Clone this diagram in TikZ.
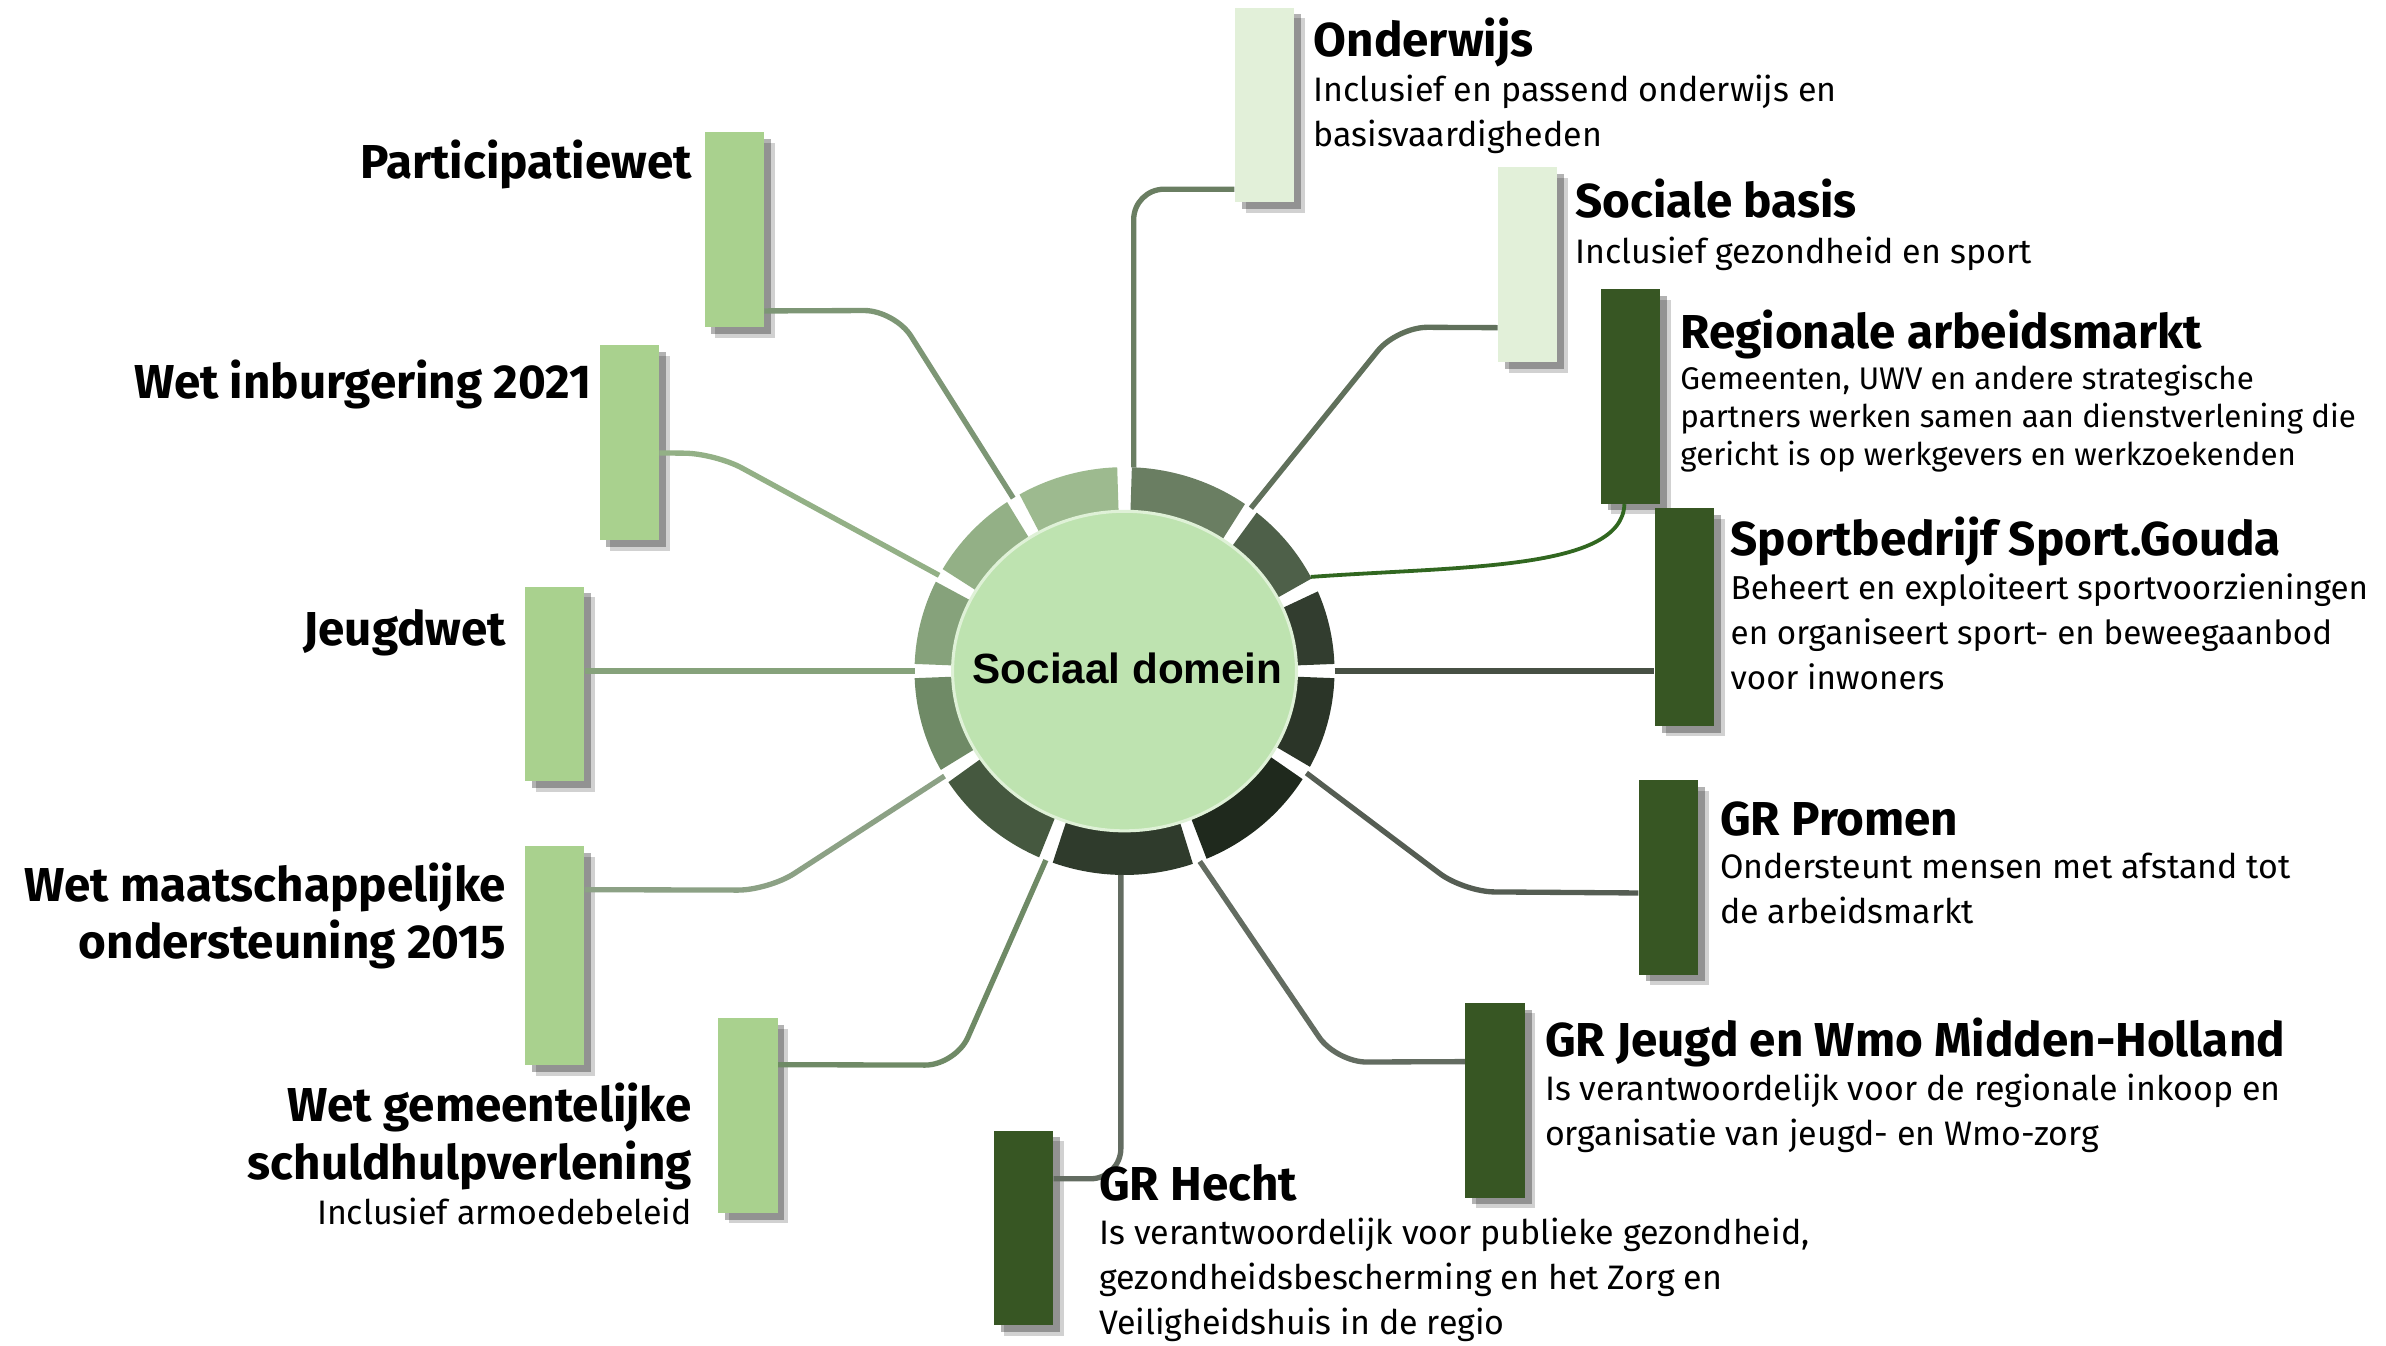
\documentclass[tikz,border=0pt]{standalone}
\usepackage{fontspec}
\setmainfont{Fira Sans}
\newfontfamily\hubfont{Liberation Sans}
\usetikzlibrary{calc,shadows}
\definecolor{BarClr}{HTML}{A9D18E}
\definecolor{PaleBarClr}{HTML}{E2F0D9}
\definecolor{DarkBarClr}{HTML}{375623}
\definecolor{HubClr}{HTML}{BEE3B0}
\definecolor{SegA}{HTML}{9DBA8F}
\definecolor{SegB}{HTML}{93B086}
\definecolor{SegC}{HTML}{86A27B}
\definecolor{SegD}{HTML}{6F8A66}
\definecolor{SegE}{HTML}{45583F}
\definecolor{SegF}{HTML}{2F3B2C}
\definecolor{SegG}{HTML}{1F291D}
\definecolor{SegH}{HTML}{2B3528}
\definecolor{SegI}{HTML}{323D2F}
\definecolor{SegJ}{HTML}{4E6049}
\definecolor{SegK}{HTML}{6A7E62}

\begin{document}
\begin{tikzpicture}[x=0.02cm,y=-0.02cm,
  pillar/.style={rectangle,inner sep=0pt,minimum width=0.78cm,minimum height=2.56cm,
    drop shadow={shadow xshift=0.14cm,shadow yshift=-0.14cm,opacity=0.18,fill=black},
    drop shadow={shadow xshift=0.09cm,shadow yshift=-0.09cm,opacity=0.3,fill=black}},
  link/.style={line width=0.07cm,rounded corners=0.4cm},
  ttl/.style={inner sep=0pt,font=\bfseries\fontsize{17.8}{21.5}\selectfont},
  dsc/.style={inner sep=0pt,align=left,font=\fontsize{12.7}{16.8}\selectfont}]
\useasboundingbox (0,0) rectangle (1568,884);

\coordinate (O) at (739,441);

\foreach \a/\b/\c in {90/122/SegA,122/152/SegB,152/180/SegC,180/211/SegD,211/248/SegE,
  248/291/SegF,291/330/SegG,330/360/SegH,360/385/SegI,385/413/SegJ,413/450/SegK}
  \fill[\c] ($(O)+(-\a-2:138 and 134)$) arc[start angle=-\a-2,end angle=-\b+2,x radius=138,y radius=134]
    -- ($(O)+(-\b+2:110 and 103)$) arc[start angle=-\b+2,end angle=-\a-2,x radius=110,y radius=103] -- cycle;

\coordinate (rOnd) at ($(O)+(-87.5:138 and 134)$);
\coordinate (rSoc) at ($(O)+(-53:138 and 134)$);
\coordinate (rReg) at ($(O)+(-27.5:138 and 134)$);
\coordinate (rSpo) at ($(O)+(0:138 and 134)$);
\coordinate (rPro) at ($(O)+(30:138 and 134)$);
\coordinate (rJgd) at ($(O)+(69:138 and 134)$);
\coordinate (rHec) at ($(O)+(91:138 and 134)$);
\coordinate (rSch) at ($(O)+(112:138 and 134)$);
\coordinate (rWmo) at ($(O)+(149:138 and 134)$);
\coordinate (rJwt) at ($(O)+(180:138 and 134)$);
\coordinate (rInb) at ($(O)+(-152:138 and 134)$);
\coordinate (rPar) at ($(O)+(-122:138 and 134)$);

\node[pillar,fill=BarClr] (Par) at (482.5,151) {};
\node[pillar,fill=BarClr] (Inb) at (413.5,291) {};
\node[pillar,fill=BarClr] (Jwt) at (364.5,449.5) {};
\node[pillar,fill=BarClr,minimum height=2.88cm] (Wmo) at (364.5,628) {};
\node[pillar,fill=BarClr] (Sch) at (491.5,733) {};
\node[pillar,fill=PaleBarClr] (Ond) at (831,69) {};
\node[pillar,fill=PaleBarClr] (Soc) at (1004,174) {};
\node[pillar,fill=DarkBarClr,minimum height=2.82cm] (Reg) at (1071.5,260.5) {};
\node[pillar,fill=DarkBarClr,minimum height=2.86cm] (Spo) at (1107,405.5) {};
\node[pillar,fill=DarkBarClr] (Pro) at (1096.5,576.5) {};
\node[pillar,fill=DarkBarClr] (Jgd) at (982.5,723) {};
\node[pillar,fill=DarkBarClr] (Hec) at (672.5,807) {};

\draw[link,color=SegK] (rOnd) |- ($(Ond.south west)+(0,-9)$);
\draw[link,color=SegJ!90!white] (rSoc) -- (918,215) -- ($(Soc.south west)+(0,-23)$);
\draw[link,color=DarkBarClr!90!green,line width=0.05cm] (rReg) .. controls (960,372) and (1066,375) .. ($(Reg.south)+(-4,0)$);
\draw[link,color=SegI!90!white] (rSpo) -- (rSpo -| Spo.west);
\draw[link,color=SegH!80!white] (rPro) -- (962,586) -- ($(Pro.south west)+(0,-54)$);
\draw[link,color=SegF!75!white] (rJgd) -- (878,698) -- ($(Jgd.north west)+(0,39)$);
\draw[link,color=SegF!75!white] (rHec) |- ($(Hec.north east)+(0,32)$);
\draw[link,color=SegD] (rSch) -- (628,700) -- ($(Sch.north east)+(0,31)$);
\draw[link,color=SegD!80!white] (rWmo) -- (505,585) -- ($(Wmo.north east)+(0,29)$);
\draw[link,color=SegC] (rJwt) -- (rJwt -| Jwt.east);
\draw[link,color=SegB] (rInb) -- (470,298) -- ($(Inb.north east)+(0,71)$);
\draw[link,color=SegD!90!white] (rPar) -- (588,204) -- ($(Par.south east)+(0,-11)$);

\fill[HubClr] (O) ellipse[x radius=113,y radius=105];
\draw[HubClr!50!white,line width=0.04cm] (O) ellipse[x radius=113,y radius=105];
\node[inner sep=0pt,font=\hubfont\bfseries\fontsize{15.8}{19}\selectfont] (hub) at (741,439) {Sociaal domein};

\node[ttl,anchor=base west] (tOnd) at (863,37) {Onderwijs};
\node[dsc,anchor=base west] (dOnd) at (863,96) {Inclusief en passend onderwijs en\\basisvaardigheden};
\node[ttl,anchor=base west] (tSoc) at (1035,143) {Sociale basis};
\node[dsc,anchor=base west] (dSoc) at (1035,173) {Inclusief gezondheid en sport};
\node[ttl,anchor=base west] (tReg) at (1104,229) {Regionale arbeidsmarkt};
\node[dsc,anchor=base west,font=\fontsize{11.7}{14.2}\selectfont] (dReg) at (1104,306) {Gemeenten, UWV en andere strategische\\partners werken samen aan dienstverlening die\\gericht is op werkgevers en werkzoekenden};
\node[ttl,anchor=base west] (tSpo) at (1137,365) {Sportbedrijf Sport.Gouda};
\node[dsc,anchor=base west,font=\fontsize{12.4}{16.8}\selectfont] (dSpo) at (1137,453) {Beheert en exploiteert sportvoorzieningen\\en organiseert sport- en beweegaanbod\\voor inwoners};
\node[ttl,anchor=base west] (tPro) at (1130,549) {GR Promen};
\node[dsc,anchor=base west] (dPro) at (1130,607) {Ondersteunt mensen met afstand tot\\de arbeidsmarkt};
\node[ttl,anchor=base west] (tJgd) at (1015,694) {GR Jeugd en Wmo Midden-Holland};
\node[dsc,anchor=base west] (dJgd) at (1015,753) {Is verantwoordelijk voor de regionale inkoop en\\organisatie van jeugd- en Wmo-zorg};
\node[ttl,anchor=base west] (tHec) at (722,789) {GR Hecht};
\node[dsc,anchor=base west] (dHec) at (722,877) {Is verantwoordelijk voor publieke gezondheid,\\gezondheidsbescherming en het Zorg en\\Veiligheidshuis in de regio};

\node[ttl,anchor=base east] (tPar) at (455,117) {Participatiewet};
\node[ttl,anchor=base east] (tInb) at (389,262) {Wet inburgering 2021};
\node[ttl,anchor=base east] (tJwt) at (333,424) {Jeugdwet};
\node[ttl,anchor=base east,align=right] (tWmo) at (333,630) {Wet maatschappelijke\\ondersteuning 2015};
\node[ttl,anchor=base east,align=right] (tSch) at (455,775) {Wet gemeentelijke\\schuldhulpverlening};
\node[dsc,anchor=base east] (dSch) at (455,805) {Inclusief armoedebeleid};

\end{tikzpicture}
\end{document}
